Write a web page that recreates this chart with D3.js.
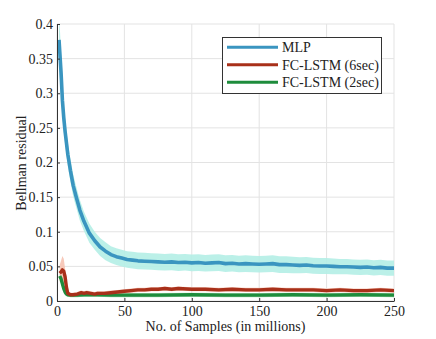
<!DOCTYPE html>
<html>
<head>
<meta charset="utf-8">
<script src="https://cdn.jsdelivr.net/npm/d3@7"></script>
<style>
body { margin: 0; background: #fff; }
text { font-family: "Liberation Serif", "DejaVu Serif", serif; fill: #222; }
</style>
</head>
<body>
<svg id="svg" width="436" height="339"></svg>
<script>
// values
const mlpX = [1.5,3,4,5,6,8,10,12,14,17,20,24,28,32,36,40,44,48,52,56,60,65,70,75,80,85,90,95,100,105,110,115,120,125,130,135,140,145,150,155,160,165,170,175,180,185,190,195,200,205,210,215,220,225,230,235,240,245,250];
const mlpY = [0.377,0.33,0.29,0.265,0.245,0.212,0.188,0.167,0.152,0.131,0.115,0.098,0.087,0.078,0.072,0.067,0.064,0.062,0.060,0.059,0.058,0.0575,0.057,0.0565,0.056,0.0565,0.0555,0.056,0.055,0.0555,0.0545,0.055,0.0555,0.054,0.0545,0.0535,0.054,0.0535,0.053,0.0535,0.054,0.0525,0.0525,0.052,0.0515,0.052,0.051,0.0505,0.0505,0.05,0.0495,0.0495,0.049,0.0485,0.049,0.048,0.0485,0.0475,0.0475];
const mlpSpread = [0.04,0.03,0.024,0.02,0.018,0.017,0.016,0.016,0.015,0.015,0.014,0.014,0.013,0.013,0.013,0.012,0.012,0.012,0.012,0.012,0.012,0.012,0.012,0.012,0.012,0.012,0.012,0.012,0.012,0.012,0.012,0.012,0.012,0.012,0.012,0.012,0.012,0.012,0.012,0.012,0.012,0.012,0.012,0.012,0.0115,0.0115,0.0115,0.0115,0.0115,0.0115,0.011,0.011,0.011,0.011,0.011,0.011,0.011,0.011,0.011];

const redX = [2,3,4,5,6,7,8,10,12,15,18,20,22,25,28,30,35,40,45,50,55,60,65,70,75,80,85,90,100,110,120,130,140,150,160,170,180,190,200,210,220,230,240,250];
const redY = [0.040,0.042,0.045,0.043,0.035,0.020,0.011,0.009,0.009,0.010,0.012,0.011,0.012,0.011,0.010,0.011,0.011,0.012,0.013,0.014,0.015,0.016,0.016,0.017,0.017,0.018,0.017,0.018,0.017,0.017,0.016,0.017,0.016,0.016,0.017,0.016,0.016,0.016,0.015,0.016,0.015,0.015,0.016,0.015];
const redSpread = [0.012,0.016,0.02,0.018,0.012,0.006,0.003,0.003,0.003,0.003,0.003,0.003,0.003,0.003,0.003,0.003,0.003,0.003,0.003,0.003,0.003,0.003,0.003,0.003,0.003,0.003,0.003,0.003,0.003,0.003,0.003,0.003,0.003,0.003,0.003,0.003,0.003,0.003,0.003,0.003,0.003,0.003,0.003,0.003];

const greenX = [2,3,4,5,6,7,8,10,15,20,30,40,50,75,100,125,150,175,200,225,250];
const greenY = [0.036,0.032,0.025,0.018,0.013,0.010,0.009,0.0085,0.0085,0.009,0.009,0.0085,0.0085,0.0085,0.009,0.0085,0.0085,0.009,0.0085,0.009,0.0085];
const greenSpread = [0.004,0.004,0.004,0.004,0.003,0.003,0.003,0.003,0.003,0.003,0.003,0.003,0.003,0.003,0.003,0.003,0.003,0.003,0.003,0.003,0.003];

const xTicks = [0,50,100,150,200,250];
const yTicks = [0,0.05,0.1,0.15,0.2,0.25,0.3,0.35,0.4];
const legendLabels = ['MLP','FC-LSTM (6sec)','FC-LSTM (2sec)'];

const svg = d3.select('#svg');
const plotL = 57, plotT = 24, plotR = 394, plotB = 301;

const xScale = d3.scaleLinear().domain([0,250]).range([plotL,plotR]);
const yScale = d3.scaleLinear().domain([0,0.4]).range([plotB,plotT]);

svg.append('defs').append('clipPath').attr('id','clip')
    .append('rect').attr('x',plotL).attr('y',plotT).attr('width',plotR-plotL).attr('height',plotB-plotT);

// grid
const grid = svg.append('g');
grid.selectAll('.gx').data(xTicks).enter().append('line')
    .attr('x1',d=>xScale(d)).attr('x2',d=>xScale(d))
    .attr('y1',plotT).attr('y2',plotB)
    .attr('stroke','#e3e3e3');
grid.selectAll('.gy').data(yTicks).enter().append('line')
    .attr('x1',plotL).attr('x2',plotR)
    .attr('y1',d=>yScale(d)).attr('y2',d=>yScale(d))
    .attr('stroke','#e3e3e3');

const series = [
    {x: mlpX, y: mlpY, s: mlpSpread, line: '#3a95c0', band: '#b4eee6', w: 3.6},
    {x: greenX, y: greenY, s: greenSpread, line: '#1e8c3c', band: '#a9dbb2', w: 3.4},
    {x: redX, y: redY, s: redSpread, line: '#a8301a', band: '#f6c3b2', w: 3.4}
];

const plot = svg.append('g').attr('clip-path','url(#clip)');

series.forEach(function(ser){
    const pts = ser.x.map((x,i) => ({x: x, y: ser.y[i], s: ser.s[i]}));
    const area = d3.area()
        .x(d => xScale(d.x))
        .y0(d => yScale(d.y - d.s))
        .y1(d => yScale(d.y + d.s));
    plot.append('path').datum(pts).attr('d',area).attr('fill',ser.band).attr('opacity',0.9);
});
series.forEach(function(ser){
    const pts = ser.x.map((x,i) => ({x: x, y: ser.y[i]}));
    const line = d3.line().x(d => xScale(d.x)).y(d => yScale(d.y));
    plot.append('path').datum(pts).attr('d',line)
        .attr('fill','none').attr('stroke',ser.line).attr('stroke-width',ser.w)
        .attr('stroke-linejoin','round');
});

// axes
const yAxis = d3.axisLeft(yScale).tickValues(yTicks).tickSizeInner(-3).tickSizeOuter(0).tickPadding(4)
    .tickFormat(d => d3.format('')(+d.toFixed(2)));
const gy = svg.append('g').attr('transform','translate('+plotL+',0)').call(yAxis);
const xAxis = d3.axisBottom(xScale).tickValues(xTicks).tickSizeInner(-3).tickSizeOuter(0).tickPadding(5);
const gx = svg.append('g').attr('transform','translate(0,'+plotB+')').call(xAxis);
[gx, gy].forEach(function(g){
    g.attr('font-family', null).attr('font-size', null);
    g.select('.domain').attr('stroke','#333');
    g.selectAll('.tick line').attr('stroke','#333');
    g.selectAll('.tick text').attr('font-size',14).attr('fill','#222');
});

svg.append('text').attr('x',(plotL+plotR)/2).attr('y',331).attr('text-anchor','middle')
    .attr('font-size',14).text('No. of Samples (in millions)');
svg.append('text').attr('transform','translate(26,163) rotate(-90)').attr('text-anchor','middle')
    .attr('font-size',14).text('Bellman residual');

// legend
const lg = svg.append('g');
lg.append('rect').attr('x',222.5).attr('y',37.5).attr('width',159).attr('height',56)
    .attr('fill','#fff').attr('stroke','#333');
const legendColors = ['#3a95c0','#a8301a','#1e8c3c'];
legendLabels.forEach(function(lab,i){
    const y = 47.3 + i*17.5;
    lg.append('line').attr('x1',227).attr('x2',278).attr('y1',y).attr('y2',y)
        .attr('stroke',legendColors[i]).attr('stroke-width',3);
    lg.append('text').attr('x',282).attr('y',y+5).attr('font-size',14).text(lab);
});
</script>
</body>
</html>
